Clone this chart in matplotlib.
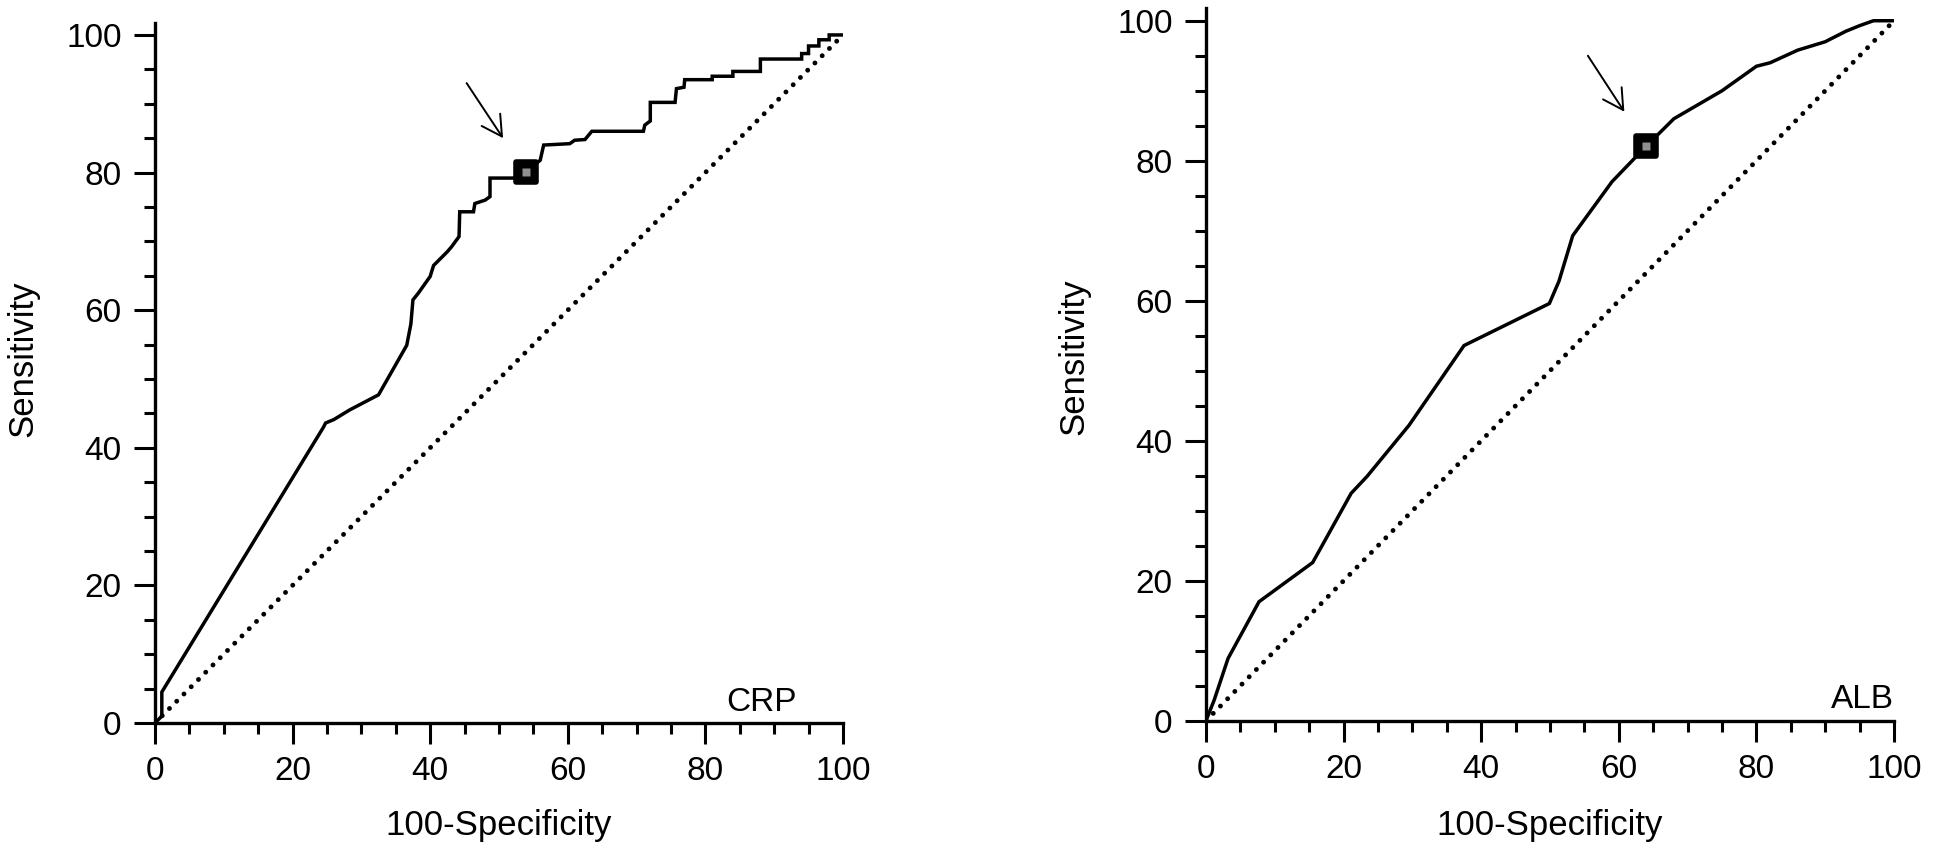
import numpy as np
import matplotlib.pyplot as plt
from matplotlib.markers import MarkerStyle

plt.rcParams.update({
    'font.family': ['Liberation Sans', 'DejaVu Sans'],
    'font.size': 24,
    'axes.linewidth': 2.4,
    'axes.unicode_minus': False,
})

# ROC curve for CRP: x = 100-Specificity, y = Sensitivity
crp_fpr = [0, 1.0, 1.0, 24.5, 24.8, 26.0, 28.3, 32.5, 36.6, 37.2, 37.5, 38.3,
           40.0, 40.5, 41.5, 42.5, 43.1, 44.2, 44.3, 46.3, 46.5, 48.0, 48.7,
           48.7, 52.1, 54.0, 56.0, 56.5, 60.3, 61.0, 62.5, 63.5, 71.0, 71.2,
           72.0, 72.0, 75.6, 75.8, 76.9, 77.0, 81.0, 81.0, 84.0, 84.0, 88.0,
           88.0, 94.0, 94.0, 95.0, 95.0, 96.5, 96.5, 98.0, 98.0, 100]
crp_sens = [0, 1.0, 4.5, 43.0, 43.6, 44.1, 45.5, 47.7, 54.9, 58.0, 61.5, 62.5,
            64.9, 66.5, 67.5, 68.5, 69.2, 70.7, 74.3, 74.3, 75.5, 76.0, 76.5,
            79.2, 79.2, 80.1, 81.8, 84.0, 84.2, 84.7, 84.8, 86.0, 86.0, 86.9,
            87.5, 90.2, 90.2, 92.2, 92.4, 93.5, 93.5, 94.0, 94.0, 94.7, 94.7,
            96.5, 96.5, 97.3, 97.3, 98.4, 98.4, 99.3, 99.3, 100, 100]
crp_cutoff = (54.0, 80.1)

# ROC curve for ALB
alb_fpr = [0, 1.2, 3.2, 7.7, 15.5, 21.1, 23.4, 29.5, 37.5, 49.9, 51.3, 53.3,
           59.0, 64.0, 68.0, 75.0, 80.0, 82.0, 86.0, 90.0, 93.0, 95.0, 97.0,
           100]
alb_sens = [0, 3.0, 8.9, 17.0, 22.6, 32.5, 34.9, 42.2, 53.6, 59.6, 62.8, 69.3,
            77.0, 82.1, 86.0, 90.0, 93.5, 94.0, 95.8, 97.0, 98.5, 99.3, 100,
            100]
alb_cutoff = (64.0, 82.1)

panels = [
    ('CRP', crp_fpr, crp_sens, crp_cutoff),
    ('ALB', alb_fpr, alb_sens, alb_cutoff),
]

fig = plt.figure(figsize=(19.49, 8.49), dpi=100)
ax_left = fig.add_axes([0.0795, 0.1484, 0.3530, 0.8242])
ax_right = fig.add_axes([0.6188, 0.1511, 0.3530, 0.8398])
axes = [ax_left, ax_right]
ytops = [101.7, 101.86]
text_x = [83.0, 90.8]
arrows = [((45.3, 93.0), (50.6, 85.0)), ((55.5, 95.0), (60.8, 87.0))]
ylab_y = [0.52, 0.51]

major = np.arange(0, 101, 20)
minor = np.arange(0, 101, 5)
cut_marker = MarkerStyle('s', joinstyle='round')

for ax, (name, fpr, sens, cut), ytop, tx, (a0, a1), ly in zip(
        axes, panels, ytops, text_x, arrows, ylab_y):
    ax.plot(fpr, sens, color='black', lw=2.5, solid_joinstyle='miter', zorder=3)
    ax.plot([0, 100], [0, 100], color='black', lw=3.5,
            linestyle=(0, (0.01, 2.1)), dash_capstyle='round', zorder=2)

    # criterion point
    ax.plot(*cut, marker=cut_marker, ms=15, mfc='black', mec='black',
            mew=4, zorder=4)
    ax.plot(*cut, marker='s', ms=6, mfc='#8f8f8f', mec='none', zorder=5)
    ax.annotate('', xy=a1, xytext=a0,
                arrowprops=dict(arrowstyle='->,head_length=0.72,head_width=0.4',
                                lw=1.4, color='black', mutation_scale=20,
                                shrinkA=0, shrinkB=0))

    ax.text(tx, 3.0, name, ha='left', va='center', fontsize=24)

    ax.set_xlim(0, 100)
    ax.set_ylim(0, ytop)
    ax.spines['top'].set_visible(False)
    ax.spines['right'].set_visible(False)
    ax.set_xticks(major)
    ax.set_yticks(major)
    ax.set_xticks(minor, minor=True)
    ax.set_yticks(minor, minor=True)
    ax.tick_params(which='major', length=15, width=2.2, pad=9, labelsize=24)
    ax.tick_params(which='minor', length=8, width=2.2)

    ax.set_xlabel('100-Specificity', fontsize=25, va='center')
    ax.set_ylabel('Sensitivity', fontsize=25, va='center')
    ax.xaxis.set_label_coords(0.5, -0.147)
    ax.yaxis.set_label_coords(-0.192, ly)

plt.savefig('out.png', dpi=100, facecolor='white')
plt.close()
